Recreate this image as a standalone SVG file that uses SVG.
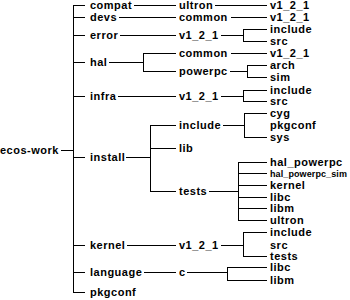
<svg xmlns="http://www.w3.org/2000/svg" width="350" height="300" viewBox="0 0 350 300">
  <style>
    text { font-family: "Liberation Sans", Arial, Helvetica, sans-serif; font-size: 11px; letter-spacing: 0.5px; font-weight: bold; fill: #000; }
    text.narrow { font-size: 9px; letter-spacing: 0.1px; }
    .wire { fill: none; stroke: #000; stroke-width: 1; shape-rendering: crispEdges; }
  </style>
  <rect width="350" height="300" fill="#fff"/>

  <!-- tree connectors -->
  <g id="connectors" class="wire">
    <!-- root to trunk -->
    <path d="M61,150 H73"/>
    <path d="M85,5 H73 V292 H85"/>
    <path d="M73,17 H85 M73,35 H85 M73,62 H85 M73,96 H85 M73,157 H85 M73,245 H85 M73,272 H85"/>
    <!-- level 1 to level 2 -->
    <path d="M134,5 H176"/>
    <path d="M119,17 H176"/>
    <path d="M120,35 H176"/>
    <path d="M109,62 H143 M176,53 H143 V71 H176"/>
    <path d="M118,96 H176"/>
    <path d="M126,157 H150 M176,125 H150 V191 H176 M150,148 H176"/>
    <path d="M127,245 H176"/>
    <path d="M144,272 H176"/>
    <!-- level 2 to level 3 -->
    <path d="M215,5 H267"/>
    <path d="M231,17 H267"/>
    <path d="M221,35 H243 M267,29 H243 V41 H267"/>
    <path d="M231,53 H267"/>
    <path d="M230,71 H247 M267,65 H247 V77 H267"/>
    <path d="M221,96 H243 M267,90 H243 V101 H267"/>
    <path d="M223,125 H244 M267,113 H244 V137 H267"/>
    <path d="M209,191 H238 M267,162 H238 V220 H267 M238,173 H267 M238,185 H267 M238,197 H267 M238,208 H267"/>
    <path d="M221,245 H243 M267,232 H243 V256 H267"/>
    <path d="M187,272 H227 M267,267 H227 V280 H267"/>
  </g>

  <!-- root -->
  <g id="n-ecos-work"><text x="0" y="154">ecos-work</text></g>

  <!-- top-level directories -->
  <g id="n-compat"><text x="90" y="9">compat</text></g>
  <g id="n-devs"><text x="90" y="21">devs</text></g>
  <g id="n-error"><text x="90" y="39">error</text></g>
  <g id="n-hal"><text x="90" y="66">hal</text></g>
  <g id="n-infra"><text x="90" y="100">infra</text></g>
  <g id="n-install"><text x="90" y="161">install</text></g>
  <g id="n-kernel"><text x="90" y="249">kernel</text></g>
  <g id="n-language"><text x="90" y="276">language</text></g>
  <g id="n-pkgconf"><text x="90" y="296">pkgconf</text></g>

  <!-- second level -->
  <g id="n-compat-ultron"><text x="179" y="9">ultron</text></g>
  <g id="n-devs-common"><text x="179" y="21">common</text></g>
  <g id="n-error-v121"><text x="179" y="39">v1_2_1</text></g>
  <g id="n-hal-common"><text x="179" y="57">common</text></g>
  <g id="n-hal-powerpc"><text x="179" y="75">powerpc</text></g>
  <g id="n-infra-v121"><text x="179" y="100">v1_2_1</text></g>
  <g id="n-install-include"><text x="179" y="129">include</text></g>
  <g id="n-install-lib"><text x="179" y="152">lib</text></g>
  <g id="n-install-tests"><text x="179" y="195">tests</text></g>
  <g id="n-kernel-v121"><text x="179" y="249">v1_2_1</text></g>
  <g id="n-language-c"><text x="179" y="276">c</text></g>

  <!-- third level -->
  <g id="n-ultron-v121"><text x="270" y="9">v1_2_1</text></g>
  <g id="n-common-v121"><text x="270" y="21">v1_2_1</text></g>
  <g id="n-error-include"><text x="270" y="33">include</text></g>
  <g id="n-error-src"><text x="270" y="45">src</text></g>
  <g id="n-hal-common-v121"><text x="270" y="57">v1_2_1</text></g>
  <g id="n-powerpc-arch"><text x="270" y="69">arch</text></g>
  <g id="n-powerpc-sim"><text x="270" y="81">sim</text></g>
  <g id="n-infra-include"><text x="270" y="94">include</text></g>
  <g id="n-infra-src"><text x="270" y="105">src</text></g>
  <g id="n-include-cyg"><text x="270" y="117">cyg</text></g>
  <g id="n-include-pkgconf"><text x="270" y="129">pkgconf</text></g>
  <g id="n-include-sys"><text x="270" y="141">sys</text></g>
  <g id="n-tests-hal-powerpc"><text x="270" y="166">hal_powerpc</text></g>
  <g id="n-tests-hal-powerpc-sim"><text class="narrow" x="270" y="176.5">hal_powerpc_sim</text></g>
  <g id="n-tests-kernel"><text x="270" y="189">kernel</text></g>
  <g id="n-tests-libc"><text x="270" y="201">libc</text></g>
  <g id="n-tests-libm"><text x="270" y="212">libm</text></g>
  <g id="n-tests-ultron"><text x="270" y="224">ultron</text></g>
  <g id="n-kernel-include"><text x="270" y="236">include</text></g>
  <g id="n-kernel-src"><text x="270" y="249">src</text></g>
  <g id="n-kernel-tests"><text x="270" y="260">tests</text></g>
  <g id="n-c-libc"><text x="270" y="271">libc</text></g>
  <g id="n-c-libm"><text x="270" y="284">libm</text></g>
</svg>
